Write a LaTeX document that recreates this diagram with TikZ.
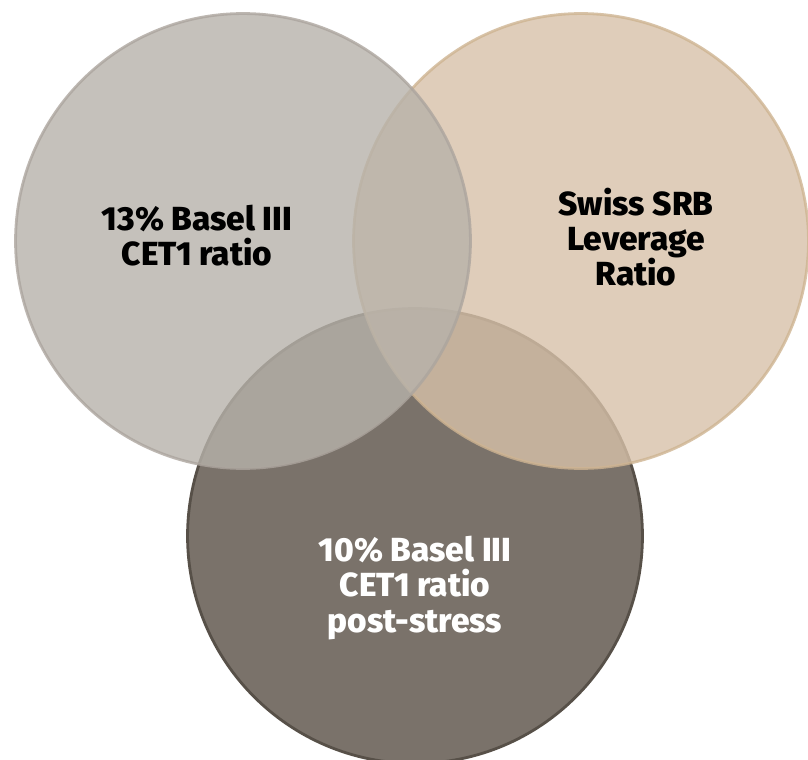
\documentclass[tikz,border=0pt]{standalone}
\usepackage{fontspec}
\setmainfont{Fira Sans}[BoldFont={* ExtraBold}]
\usetikzlibrary{positioning}
\definecolor{ringGrey}{HTML}{B7B2AA}
\definecolor{ringGreyEdge}{HTML}{ACA59E}
\definecolor{ringSand}{HTML}{D7C1A9}
\definecolor{ringSandEdge}{HTML}{CEB492}
\definecolor{ringDark}{HTML}{7A726A}
\definecolor{ringDarkEdge}{HTML}{575048}

\begin{document}
\begin{tikzpicture}[x=0.02cm, y=-0.02cm,
    every node/.style={font=\bfseries\fontsize{19}{20}\selectfont, align=center},
    ring/.style={circle, minimum size=9.1cm, inner sep=0pt, line width=1.6pt}]
        \useasboundingbox (0,0) rectangle (808,760);
        % the three requirements, back to front
        \node[ring, fill=ringDark, draw=ringDarkEdge] (stress) at (415,536) {};
        \node[ring, fill=ringSand, draw=ringSandEdge, opacity=0.8] (srb) at (581,241) {};
        \node[ring, fill=ringGrey, draw=ringGreyEdge, opacity=0.8] (cet) at (243,241) {};
        \node (cetText) at (197,236) {13\% Basel III\\CET1 ratio};
        \node (srbText) at (636,237) {Swiss SRB\\Leverage\\Ratio};
        \node[text=white] (stressText) at (415,588) {10\% Basel III\\CET1 ratio\\post-stress};
      \end{tikzpicture}
\end{document}
